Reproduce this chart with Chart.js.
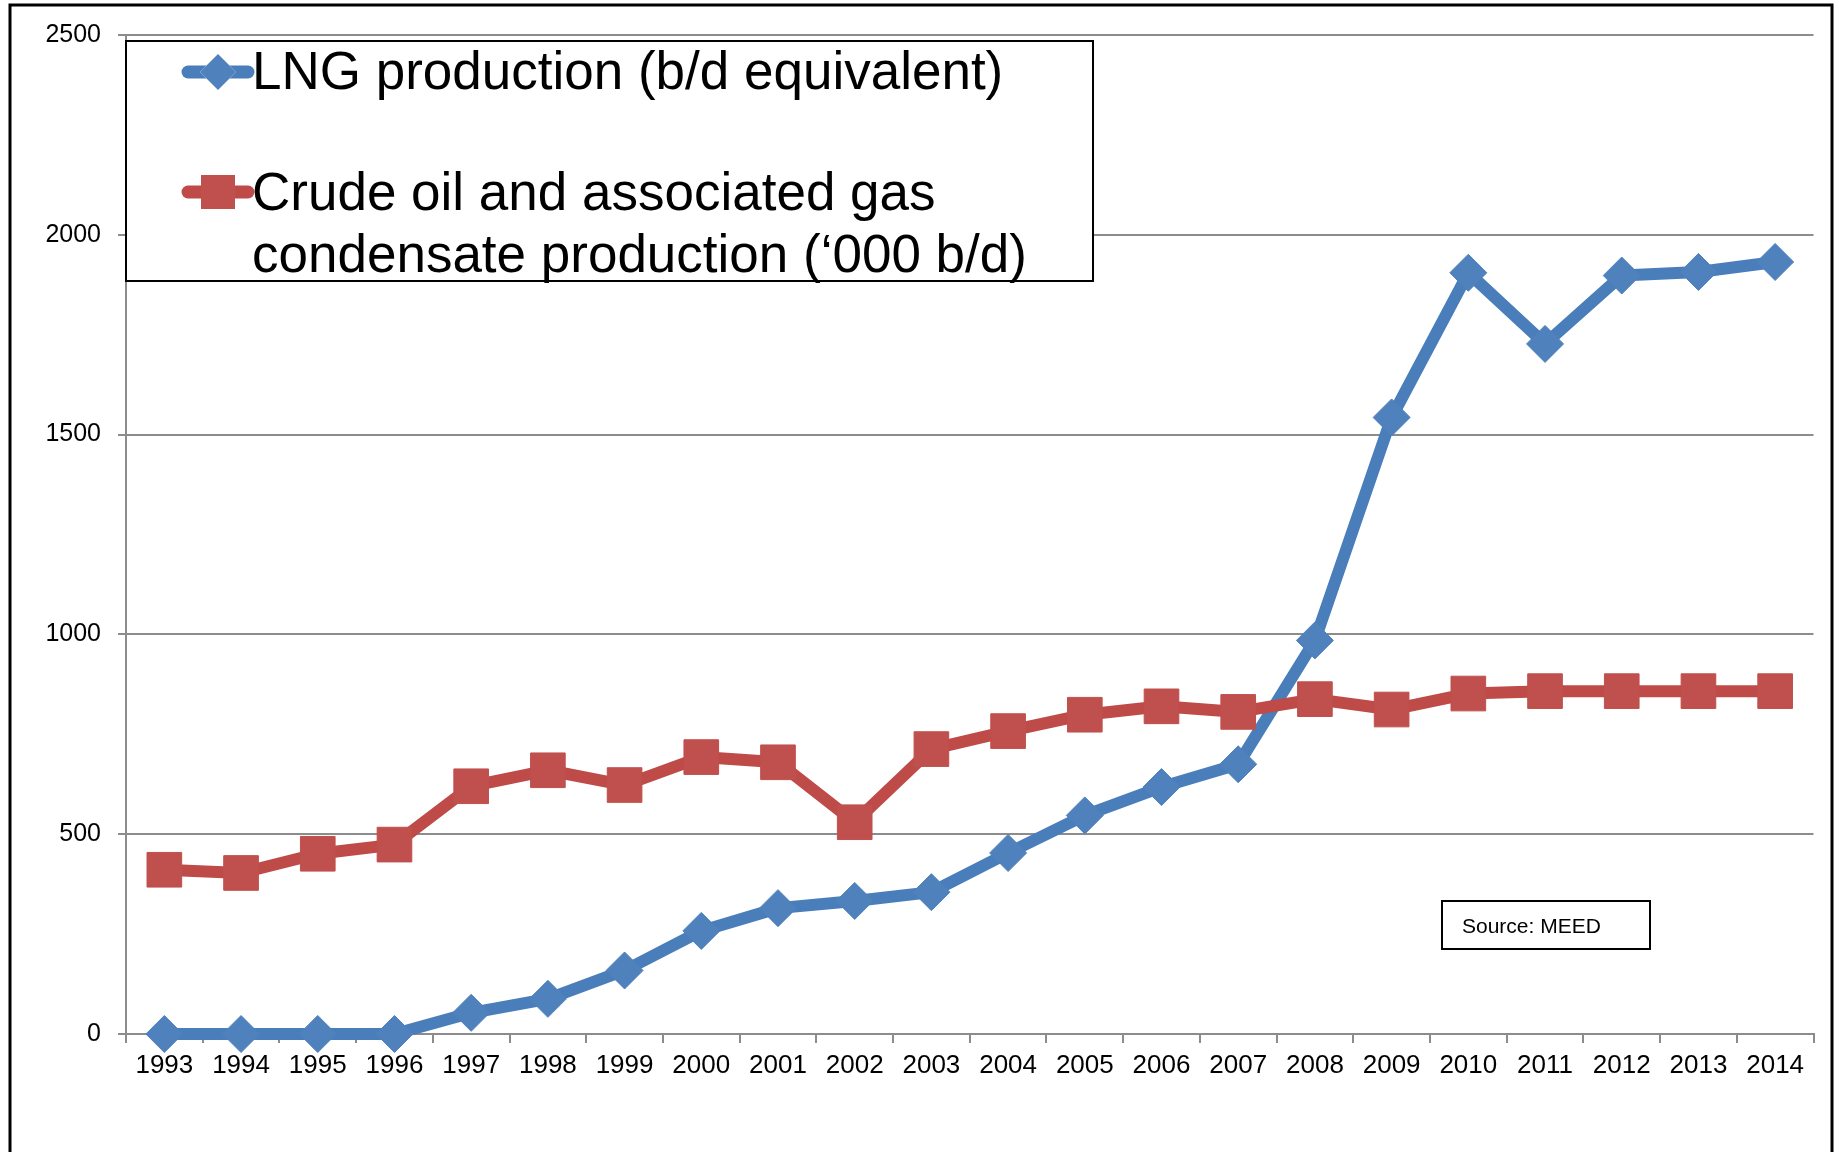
<!DOCTYPE html>
<html lang="en">
<head>
    <meta charset="UTF-8">
    <title>LNG and crude oil production</title>
    <script src="https://cdn.jsdelivr.net/npm/chart.js"></script>
    <style>
        body { margin: 0; background: #fff; }
        canvas { display: block; }
    </style>
</head>
<body>
    <canvas id="prodChart" width="1839" height="1152"></canvas>

    <script>
        // years on the x axis
        const years = ['1993', '1994', '1995', '1996', '1997', '1998', '1999', '2000', '2001', '2002', '2003',
                       '2004', '2005', '2006', '2007', '2008', '2009', '2010', '2011', '2012', '2013', '2014'];

        // LNG production (b/d equivalent)
        const lngValues = [0, 0, 0, 0, 53, 88, 159, 258, 315, 333, 355, 453, 547, 618, 675, 985, 1543, 1905, 1727, 1898, 1907, 1932];

        // Crude oil and associated gas condensate production ('000 b/d)
        const crudeValues = [411, 403, 451, 474, 620, 660, 623, 693, 680, 530, 713, 758, 799, 820, 806, 838, 812, 852, 858, 858, 858, 858];

        const yTicks = [0, 500, 1000, 1500, 2000, 2500];

        const lngLabel = 'LNG production (b/d equivalent)';
        const crudeLabel = ['Crude oil and associated gas', 'condensate production (\u2018000 b/d)'];
        const sourceText = 'Source: MEED';

        const blueLine = '#4A7EBB', blueMark = '#4F81BD';
        const redLine = '#BE4B48', redMark = '#C0504D';
        const gridGray = '#8c8c8c';
        const fontFam = '"Liberation Sans", Arial, sans-serif';

        // outer frame, legend box and source box
        const decorations = {
            id: 'decorations',
            afterDraw(chart) {
                const ctx = chart.ctx;
                const area = chart.chartArea;
                ctx.save();

                // frame round the whole picture (bottom edge is off-canvas)
                ctx.strokeStyle = '#000';
                ctx.lineWidth = 3;
                ctx.strokeRect(10, 5, 1822, 1250);

                // legend box
                const lx = area.left, ly = area.top + 6;
                ctx.fillStyle = '#fff';
                ctx.fillRect(lx, ly, 967, 240);
                ctx.lineWidth = 2;
                ctx.strokeRect(lx, ly, 967, 240);

                ctx.lineCap = 'round';
                ctx.lineWidth = 13;
                // LNG entry
                ctx.strokeStyle = blueLine;
                ctx.beginPath();
                ctx.moveTo(lx + 62, ly + 31);
                ctx.lineTo(lx + 122, ly + 31);
                ctx.stroke();
                Chart.helpers.drawPoint(ctx, { pointStyle: 'rectRot', radius: 18, borderWidth: 0 }, lx + 92, ly + 31);
                ctx.fillStyle = blueMark;
                ctx.fill();

                // crude entry
                ctx.strokeStyle = redLine;
                ctx.beginPath();
                ctx.moveTo(lx + 62, ly + 151);
                ctx.lineTo(lx + 122, ly + 151);
                ctx.stroke();
                ctx.fillStyle = redMark;
                ctx.fillRect(lx + 75, ly + 134, 34, 34);

                ctx.fillStyle = '#000';
                ctx.font = '53px ' + fontFam;
                ctx.textBaseline = 'alphabetic';
                ctx.textAlign = 'left';
                ctx.fillText(lngLabel, lx + 126, ly + 48);
                ctx.fillText(crudeLabel[0], lx + 126, ly + 169);
                ctx.fillText(crudeLabel[1], lx + 126, ly + 231);

                // source note
                ctx.lineWidth = 2;
                ctx.strokeStyle = '#000';
                ctx.fillStyle = '#fff';
                ctx.fillRect(1442, 901, 208, 48);
                ctx.strokeRect(1442, 901, 208, 48);
                ctx.fillStyle = '#000';
                ctx.font = '21px ' + fontFam;
                ctx.fillText(sourceText, 1462, 933);

                ctx.restore();
            }
        };

        new Chart(document.getElementById('prodChart'), {
            type: 'line',
            data: {
                labels: years,
                datasets: [{
                    label: lngLabel,
                    data: lngValues,
                    clip: false,
                    borderColor: blueLine,
                    borderWidth: 12,
                    borderJoinStyle: 'round',
                    tension: 0,
                    pointStyle: 'rectRot',
                    pointRadius: 18.5,
                    pointBackgroundColor: blueMark,
                    pointBorderColor: blueMark,
                    pointBorderWidth: 1,
                    order: 2
                }, {
                    label: crudeLabel.join(' '),
                    data: crudeValues,
                    clip: false,
                    borderColor: redLine,
                    borderWidth: 12,
                    borderJoinStyle: 'round',
                    tension: 0,
                    pointStyle: 'rect',
                    pointRadius: 24.5,
                    pointBackgroundColor: redMark,
                    pointBorderColor: redMark,
                    pointBorderWidth: 1,
                    order: 1
                }]
            },
            options: {
                responsive: false,
                animation: false,
                devicePixelRatio: 1,
                layout: { padding: { top: 35, right: 20, bottom: 0, left: 0 } },
                plugins: {
                    legend: { display: false },
                    tooltip: { enabled: false }
                },
                scales: {
                    x: {
                        type: 'category',
                        offset: true,
                        afterFit(scale) { scale.height = 118; },
                        grid: {
                            offset: true,
                            drawOnChartArea: false,
                            drawTicks: true,
                            tickLength: 9,
                            color: gridGray,
                            lineWidth: 2
                        },
                        border: { display: true, color: gridGray, width: 2 },
                        ticks: {
                            color: '#000',
                            padding: 7,
                            maxRotation: 0,
                            autoSkip: false,
                            font: { family: fontFam, size: 26 }
                        }
                    },
                    y: {
                        min: 0,
                        max: 2500,
                        afterFit(scale) { scale.width = 126; },
                        afterBuildTicks(scale) { scale.ticks = yTicks.map(v => ({ value: v })); },
                        grid: {
                            color: gridGray,
                            lineWidth: 2,
                            tickLength: 8
                        },
                        border: { display: true, color: gridGray, width: 2 },
                        ticks: {
                            color: '#000',
                            padding: 17,
                            font: { family: fontFam, size: 25 },
                            callback: v => String(v)
                        }
                    }
                }
            },
            plugins: [decorations]
        });
    </script>
</body>
</html>
